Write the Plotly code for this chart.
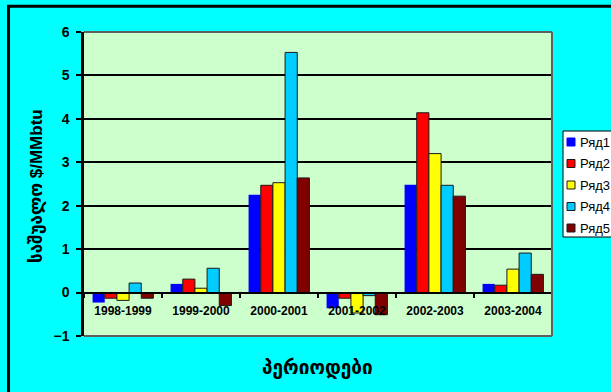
import plotly.graph_objects as go

# Average price change per period, $/MMbtu
periods = ["1998-1999", "1999-2000", "2000-2001", "2001-2002", "2002-2003", "2003-2004"]
series_names = ["Ряд1", "Ряд2", "Ряд3", "Ряд4", "Ряд5"]
row1 = [-0.23, 0.20, 2.25, -0.36, 2.48, 0.20]
row2 = [-0.13, 0.31, 2.47, -0.13, 4.14, 0.17]
row3 = [-0.18, 0.10, 2.53, -0.47, 3.20, 0.54]
row4 = [0.22, 0.56, 5.53, -0.07, 2.47, 0.91]
row5 = [-0.13, -0.30, 2.64, -0.51, 2.22, 0.42]
y_ticks = [-1, 0, 1, 2, 3, 4, 5, 6]

series_values = [row1, row2, row3, row4, row5]
colors = ["#0000FF", "#FF0000", "#FFFF00", "#00CCFF", "#800000"]
outline = [0, 1, 1, 1, 1]

W, H = 611, 392
ML, MR, MT, MB = 84, 59, 32, 56
PW, PH = W - ML - MR, H - MT - MB


def px(x):
    return (x - ML) / PW


def py(y):
    return 1 - (y - MT) / PH


FONT = "Arial, Liberation Sans, DejaVu Sans, sans-serif"

fig = go.Figure()
for name, vals, col, lw in zip(series_names, series_values, colors, outline):
    fig.add_trace(go.Bar(
        x=periods, y=vals, name=name,
        marker=dict(color=col, line=dict(color="#1a1a1a", width=lw)),
        showlegend=False,
    ))

ymin, ymax = y_ticks[0], y_ticks[-1]
zero_pos = (0 - ymin) / (ymax - ymin)

fig.update_layout(
    width=W, height=H,
    margin=dict(l=ML, r=MR, t=MT, b=MB),
    paper_bgcolor="#00FFFF",
    plot_bgcolor="#CCFFCC",
    barmode="group",
    bargap=0.22,
    bargroupgap=0,
    font=dict(family=FONT, color="black"),
    xaxis=dict(
        type="category",
        anchor="free", position=zero_pos,
        showline=True, linecolor="black", linewidth=2,
        ticks="outside", tickson="boundaries", ticklen=4, tickwidth=1.5, tickcolor="black",
        tickfont=dict(size=12, family=FONT, weight="bold"),
        ticklabelstandoff=7,
        showgrid=False,
    ),
    yaxis=dict(
        range=[ymin, ymax],
        tickvals=y_ticks,
        showline=True, linecolor="black", linewidth=2.5,
        ticks="outside", ticklen=5, tickwidth=2, tickcolor="black",
        tickfont=dict(size=14, family=FONT, weight="bold"),
        ticklabelstandoff=4,
        showgrid=True, gridcolor="black", gridwidth=1.5,
        zeroline=True, zerolinecolor="black", zerolinewidth=2,
    ),
)

shapes = []
# outer black frame (top and left edges visible)
shapes.append(dict(type="rect", xref="paper", yref="paper",
                   x0=px(8.5), x1=px(640), y0=py(6.3), y1=py(420),
                   line=dict(color="black", width=3), layer="above"))
# grey border of the plot area: top, right, bottom
for x0, y0, x1, y1 in [(0, 1, 1, 1), (1, 1, 1, 0), (0, 0, 1, 0)]:
    shapes.append(dict(type="line", xref="paper", yref="paper",
                       x0=x0, y0=y0, x1=x1, y1=y1,
                       line=dict(color="#606060", width=2), layer="above"))

# legend box
lx0, ly0, lx1, ly1 = 563, 131, 614, 237
shapes.append(dict(type="rect", xref="paper", yref="paper",
                   x0=px(lx0), x1=px(lx1), y0=py(ly0), y1=py(ly1),
                   fillcolor="white", line=dict(color="black", width=1), layer="above"))

annotations = []
row_h = 21.5
for i, (name, col, lw) in enumerate(zip(series_names, colors, outline)):
    cy = 142 + i * row_h
    shapes.append(dict(type="rect", xref="paper", yref="paper",
                       x0=px(567), x1=px(575), y0=py(cy - 4), y1=py(cy + 4),
                       fillcolor=col,
                       line=dict(color="#1a1a1a" if lw else col, width=1),
                       layer="above"))
    annotations.append(dict(text=name, xref="paper", yref="paper",
                            x=px(578), y=py(cy), xanchor="left", yanchor="middle",
                            showarrow=False, font=dict(size=13, family=FONT, color="black")))

# axis titles
annotations.append(dict(text="საშუალო $/MMbtu", xref="paper", yref="paper",
                        x=px(36), y=py(186), textangle=-90,
                        xanchor="center", yanchor="middle", showarrow=False,
                        font=dict(size=17, family=FONT, weight="bold", color="black")))
annotations.append(dict(text="პერიოდები", xref="paper", yref="paper",
                        x=px(317), y=py(368),
                        xanchor="center", yanchor="middle", showarrow=False,
                        font=dict(size=19, family=FONT, weight="bold", color="black")))

fig.update_layout(shapes=shapes, annotations=annotations)
fig.write_html("out.html")
